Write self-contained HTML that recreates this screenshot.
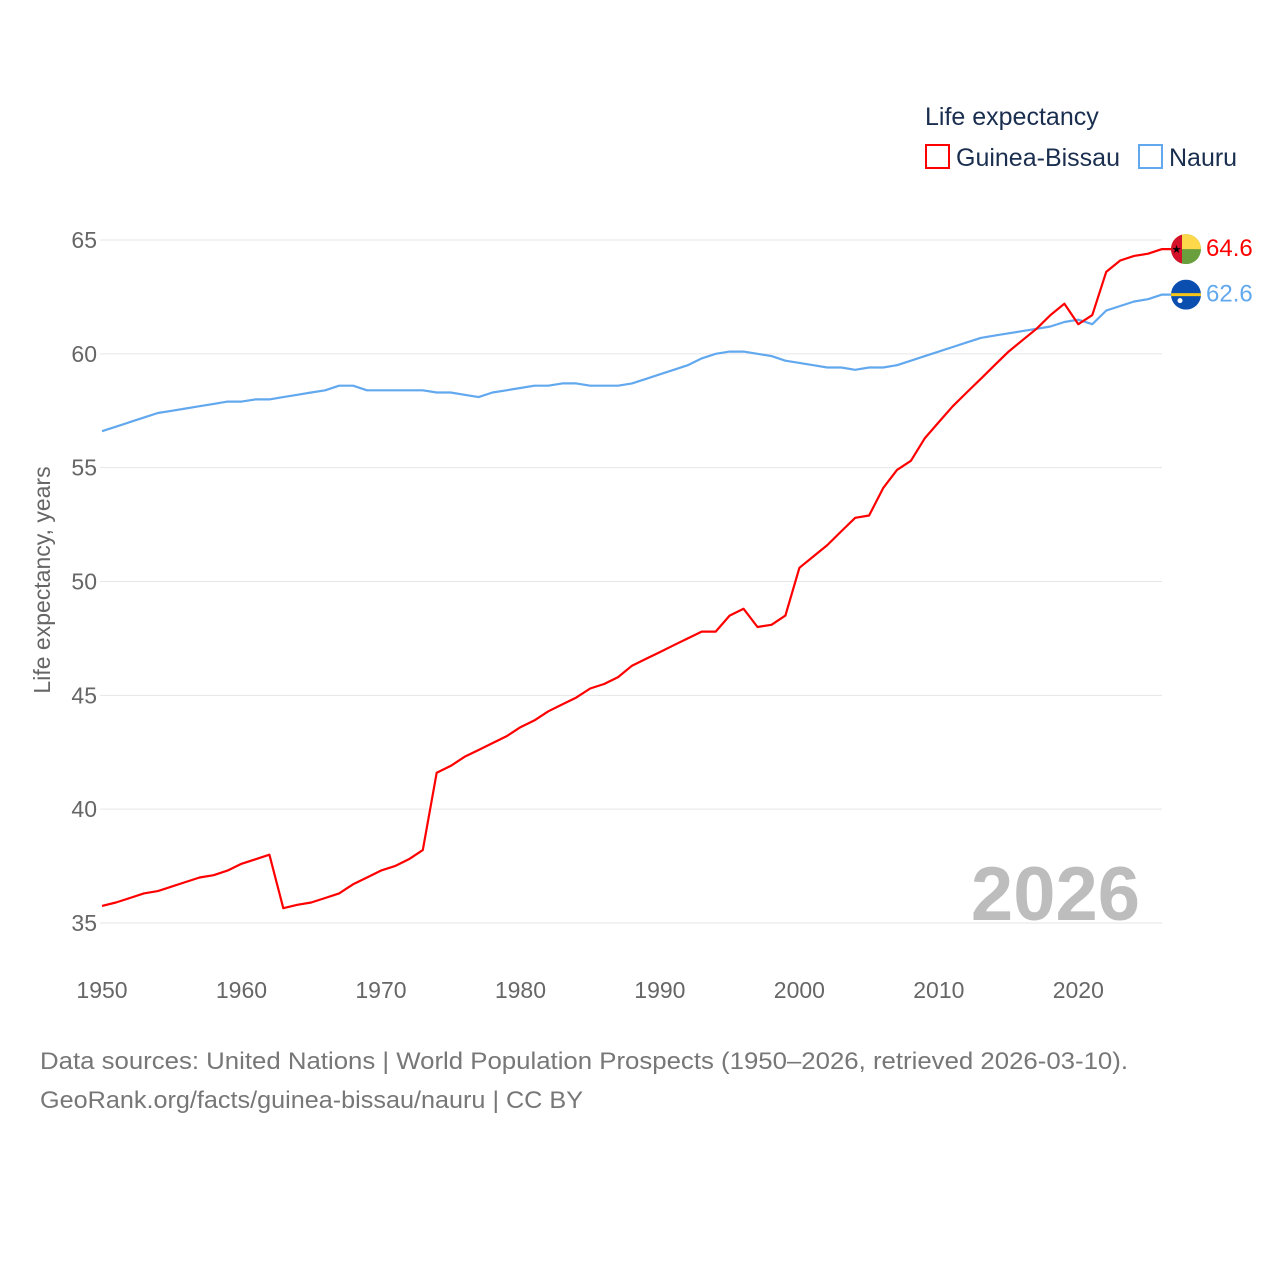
<!DOCTYPE html>
<html><head><meta charset="utf-8">
<style>
html,body{margin:0;padding:0;background:#fff;}
svg{display:block;font-family:"Liberation Sans",sans-serif;}
</style></head>
<body>
<svg id="chart" width="1280" height="1280" viewBox="0 0 1280 1280">
  <g id="grid"></g>
  <g id="yticks"></g>
  <g id="xticks"></g>
  <text x="50" y="580" transform="rotate(-90 50 580)" text-anchor="middle" font-size="23" fill="#666">Life expectancy, years</text>
  <text x="1140" y="920" text-anchor="end" font-size="76" font-weight="bold" fill="#bdbdbd">2026</text>
  <g id="lines"></g>
  <g>
    <text x="925" y="125" font-size="25" fill="#1a2e4f">Life expectancy</text>
    <g>
      <rect x="926" y="145" width="23" height="23" fill="none" stroke="#ff0000" stroke-width="2"/>
      <text x="956" y="166" font-size="25" fill="#1a2e4f">Guinea-Bissau</text>
    </g>
    <g>
      <rect x="1139" y="145" width="23" height="23" fill="none" stroke="#62a8ee" stroke-width="2"/>
      <text x="1169" y="166" font-size="25" fill="#1a2e4f">Nauru</text>
    </g>
  </g>
  <g id="endmarks"></g>
  <text x="40" y="1069" font-size="24" fill="#777" textLength="1088" lengthAdjust="spacingAndGlyphs">Data sources: United Nations | World Population Prospects (1950–2026, retrieved 2026-03-10).</text>
  <text x="40" y="1108" font-size="24" fill="#777" textLength="543" lengthAdjust="spacingAndGlyphs">GeoRank.org/facts/guinea-bissau/nauru | CC BY</text>
</svg>
<script>
const years = [];
for (let y = 1950; y <= 2026; y++) years.push(y);
const guineaBissau = [35.75,35.9,36.1,36.3,36.4,36.6,36.8,37.0,37.1,37.3,37.6,37.8,38.0,35.65,35.8,35.9,36.1,36.3,36.7,37.0,37.3,37.5,37.8,38.2,41.6,41.9,42.3,42.6,42.9,43.2,43.6,43.9,44.3,44.6,44.9,45.3,45.5,45.8,46.3,46.6,46.9,47.2,47.5,47.8,47.8,48.5,48.8,48.0,48.1,48.5,50.6,51.1,51.6,52.2,52.8,52.9,54.1,54.9,55.3,56.3,57.0,57.7,58.3,58.9,59.5,60.1,60.6,61.1,61.7,62.2,61.3,61.7,63.6,64.1,64.3,64.4,64.6];
const nauru = [56.6,56.8,57.0,57.2,57.4,57.5,57.6,57.7,57.8,57.9,57.9,58.0,58.0,58.1,58.2,58.3,58.4,58.6,58.6,58.4,58.4,58.4,58.4,58.4,58.3,58.3,58.2,58.1,58.3,58.4,58.5,58.6,58.6,58.7,58.7,58.6,58.6,58.6,58.7,58.9,59.1,59.3,59.5,59.8,60.0,60.1,60.1,60.0,59.9,59.7,59.6,59.5,59.4,59.4,59.3,59.4,59.4,59.5,59.7,59.9,60.1,60.3,60.5,60.7,60.8,60.9,61.0,61.1,61.2,61.4,61.5,61.3,61.9,62.1,62.3,62.4,62.6];
const yTicks = [35,40,45,50,55,60,65];
const xTicks = [1950,1960,1970,1980,1990,2000,2010,2020];

const NS = "http://www.w3.org/2000/svg";
const X0 = 102, XPY = (1162 - 102) / 76;
const Y65 = 240, YPU = (923 - 240) / 30;
function xs(yr){ return X0 + (yr - 1950) * XPY; }
function ys(v){ return Y65 + (65 - v) * YPU; }
function mk(tag, attrs, parent){
  const e = document.createElementNS(NS, tag);
  for (const k in attrs) e.setAttribute(k, attrs[k]);
  parent.appendChild(e); return e;
}
const grid = document.getElementById('grid');
const yt = document.getElementById('yticks');
const xt = document.getElementById('xticks');
yTicks.forEach(v => {
  const l = mk('line', {x1:100, x2:1162, y1:ys(v), y2:ys(v), stroke:'#e6e6e6', 'stroke-width':1}, grid);
  
  
  const t = mk('text', {x:97, y:ys(v)+8, 'text-anchor':'end', 'font-size':23, fill:'#666'}, yt);
  t.textContent = v;
  
  
});
xTicks.forEach(v => {
  const t = mk('text', {x:xs(v), y:998, 'text-anchor':'middle', 'font-size':23, fill:'#666'}, xt);
  t.textContent = v;
  
  
});
const lines = document.getElementById('lines');
function drawLine(vals, color, name){
  let d = vals.map((v,i) => (i ? 'L' : 'M') + xs(years[i]).toFixed(1) + ',' + ys(v).toFixed(1)).join(' ');
  d += ' L1172,' + ys(vals[vals.length-1]).toFixed(1);
  const p = mk('path', {d:d, fill:'none', stroke:color, 'stroke-width':2.2, 'stroke-linejoin':'round'}, lines);
  
  
}
drawLine(nauru, '#62a8ee', 'line-nauru');
drawLine(guineaBissau, '#ff0000', 'line-guinea-bissau');

const em = document.getElementById('endmarks');
const last = years.length - 1;
const cx = 1186;
// Guinea-Bissau flag
const gy = ys(guineaBissau[last]);
const g1 = mk('g', {}, em);


const cp1 = mk('clipPath', {id:'cg'}, g1);
mk('circle', {cx:cx, cy:gy, r:15}, cp1);
const gg = mk('g', {'clip-path':'url(#cg)'}, g1);
mk('rect', {x:cx-15, y:gy-15, width:30, height:30, fill:'#6a9f3e'}, gg);
mk('rect', {x:cx-15, y:gy-15, width:30, height:15, fill:'#fcd84a'}, gg);
mk('rect', {x:cx-15, y:gy-15, width:11, height:30, fill:'#d4102a'}, gg);
mk('text', {x:cx-9.5, y:gy+4, 'text-anchor':'middle', 'font-size':11, fill:'#000'}, gg).textContent = '★';
const gl = mk('text', {x:1206, y:gy+7, 'font-size':24, fill:'#ff0000'}, em);
gl.textContent = guineaBissau[last].toFixed(1);


// Nauru flag
const ny = ys(nauru[last]);
const g2 = mk('g', {}, em);


const cp2 = mk('clipPath', {id:'cn'}, g2);
mk('circle', {cx:cx, cy:ny, r:15}, cp2);
const ng = mk('g', {'clip-path':'url(#cn)'}, g2);
mk('rect', {x:cx-15, y:ny-15, width:30, height:30, fill:'#0a4fb0'}, ng);
mk('rect', {x:cx-15, y:ny-1.5, width:30, height:3, fill:'#f5c518'}, ng);
mk('circle', {cx:cx-6, cy:ny+6, r:2.5, fill:'#fff'}, ng);
const nl = mk('text', {x:1206, y:ny+7, 'font-size':24, fill:'#62a8ee'}, em);
nl.textContent = nauru[last].toFixed(1);


</script>
</body></html>
